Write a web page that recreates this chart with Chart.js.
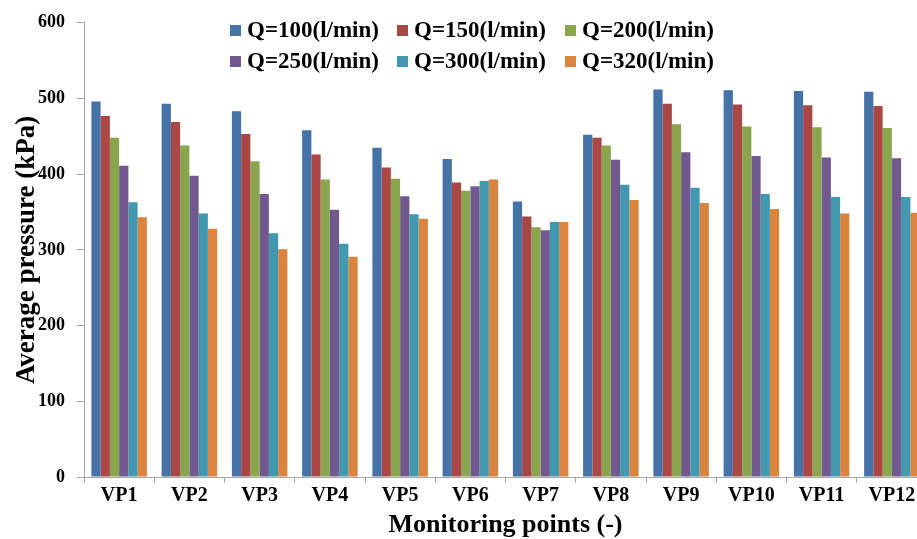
<!DOCTYPE html>
<html>
<head>
<meta charset="utf-8">
<title>Average pressure at monitoring points</title>
<script src="https://cdn.jsdelivr.net/npm/chart.js@4.4.1/dist/chart.umd.min.js"></script>
<style>
    html, body { margin: 0; padding: 0; background: #fff; overflow: hidden; }
    #wrap { width: 917px; height: 539px; overflow: hidden; }
</style>
</head>
<body>
<div id="wrap">
    <canvas id="pressureChart" width="930" height="539"></canvas>
</div>
<script>
// monitoring points
var points = ["VP1", "VP2", "VP3", "VP4", "VP5", "VP6", "VP7", "VP8", "VP9", "VP10", "VP11", "VP12"];

// average pressure (kPa) per flow rate
var q100 = [496, 493, 483, 458, 435, 420, 364, 452, 512, 511, 510, 509];
var q150 = [477, 469, 453, 426, 409, 389, 344, 448, 493, 492, 491, 490];
var q200 = [448, 438, 417, 393, 394, 378, 330, 438, 466, 463, 462, 461];
var q250 = [411, 398, 374, 353, 371, 384, 326, 419, 429, 424, 422, 421];
var q300 = [363, 348, 322, 308, 347, 391, 337, 386, 382, 374, 370, 370];
var q320 = [343, 328, 301, 291, 341, 393, 337, 366, 362, 354, 348, 349];

var seriesLabels = ["Q=100(l/min)", "Q=150(l/min)", "Q=200(l/min)", "Q=250(l/min)", "Q=300(l/min)", "Q=320(l/min)"];
var yTicks = [0, 100, 200, 300, 400, 500, 600];

var colors = ["#4572A7", "#AA4643", "#89A54E", "#71588F", "#4198AF", "#DB843D"];
var serif = "'Liberation Serif', 'Times New Roman', serif";
var axisGray = "#A6A6A6";

var allSeries = [q100, q150, q200, q250, q300, q320];
var datasets = allSeries.map(function (vals, i) {
    return {
        label: seriesLabels[i],
        data: vals,
        backgroundColor: colors[i],
        borderWidth: 0,
        categoryPercentage: 0.79,
        barPercentage: 1.0
    };
});

// legend sits inside the plot, 2 rows x 3 columns
var insideLegend = {
    id: "insideLegend",
    afterDraw: function (chart) {
        var ctx = chart.ctx;
        var colX = [230, 397, 565];
        var rowY = [30.5, 61.5];
        ctx.save();
        ctx.font = "bold 23px " + serif;
        ctx.textBaseline = "middle";
        ctx.textAlign = "left";
        chart.data.datasets.forEach(function (ds, i) {
            var x = colX[i % 3];
            var y = rowY[Math.floor(i / 3)];
            ctx.fillStyle = ds.backgroundColor;
            ctx.fillRect(x, y - 5.5, 11, 11);
            ctx.fillStyle = "#000";
            ctx.fillText(ds.label, x + 17, y + 1);
        });
        ctx.restore();
    }
};

var ctx = document.getElementById("pressureChart").getContext("2d");
new Chart(ctx, {
    type: "bar",
    data: { labels: points, datasets: datasets },
    plugins: [insideLegend],
    options: {
        responsive: false,
        animation: false,
        layout: { padding: { top: 15, right: 3, left: 0, bottom: 0 } },
        plugins: {
            legend: { display: false },
            tooltip: { enabled: false }
        },
        scales: {
            x: {
                grid: { display: true, drawOnChartArea: false, drawTicks: true, tickLength: 6, color: axisGray, offset: true },
                border: { display: true, color: axisGray, width: 1 },
                ticks: { color: "#000", padding: 1, font: { family: serif, size: 20, weight: "bold" } },
                title: {
                    display: true,
                    text: "Monitoring points (-)",
                    color: "#000",
                    font: { family: serif, size: 26, weight: "bold", lineHeight: 1 },
                    padding: { top: 0, bottom: 1 }
                },
                afterFit: function (scale) { scale.height = 62; }
            },
            y: {
                min: 0,
                max: 600,
                afterBuildTicks: function (scale) {
                    scale.ticks = yTicks.map(function (v) { return { value: v }; });
                },
                grid: { display: true, drawOnChartArea: false, drawTicks: true, tickLength: 7, color: axisGray },
                border: { display: true, color: axisGray, width: 1 },
                ticks: { color: "#000", padding: 12, font: { family: serif, size: 18, weight: "bold" } },
                title: {
                    display: true,
                    text: "Average pressure (kPa)",
                    color: "#000",
                    font: { family: serif, size: 27, weight: "bold", lineHeight: 1 },
                    padding: { top: 14, bottom: 0 }
                },
                afterFit: function (scale) { scale.width = 84; }
            }
        }
    }
});
</script>
</body>
</html>
